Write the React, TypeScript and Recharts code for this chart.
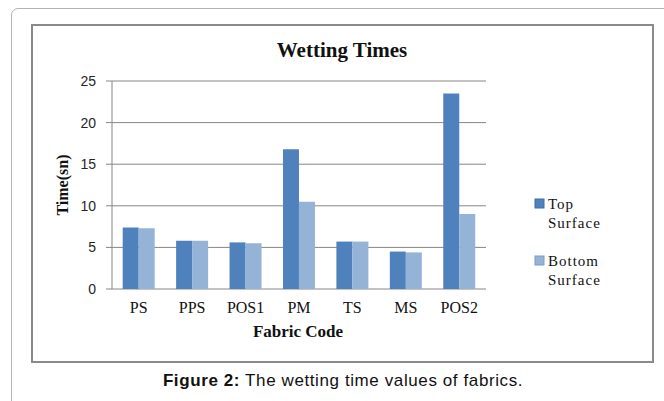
import { Bar, BarChart, CartesianGrid, XAxis, YAxis } from 'recharts';

const fabrics = ['PS', 'PPS', 'POS1', 'PM', 'TS', 'MS', 'POS2'];
const topSurface = [7.4, 5.8, 5.6, 16.8, 5.7, 4.5, 23.5];
const bottomSurface = [7.3, 5.8, 5.5, 10.5, 5.7, 4.4, 9.0];
const yTicks = [0, 5, 10, 15, 20, 25];
const edgeTicks = [0, 1, 2, 3, 4, 5, 6, 7];

const series = [
  { key: 'top', label: ['Top', 'Surface'], fill: '#4F81BD', stroke: '#3F6FA8' },
  { key: 'bottom', label: ['Bottom', 'Surface'], fill: '#95B3D7', stroke: '#7B9CC6' },
];

const data = fabrics.map((name, i) => ({
  name,
  top: topSurface[i],
  bottom: bottomSurface[i],
}));

const SERIF = '"Liberation Serif", "Times New Roman", serif';
const SANS = '"Liberation Sans", Arial, sans-serif';
const GRID = '#868686';

export default function App() {
  return (
    <div
      style={{
        position: 'absolute',
        left: 0,
        top: 0,
        width: 664,
        height: 401,
        overflow: 'hidden',
        background: '#fff',
      }}
    >
      {/* outer page frame */}
      <div
        style={{
          position: 'absolute',
          left: 11,
          top: 8,
          width: 700,
          height: 420,
          border: '1px solid #b4b4b4',
          borderRadius: 7,
        }}
      />
      {/* chart area box */}
      <div
        style={{
          position: 'absolute',
          left: 31,
          top: 24,
          width: 623,
          height: 339,
          boxSizing: 'border-box',
          border: '2px solid #8a8a8a',
        }}
      />

      <div style={{ position: 'absolute', left: 0, top: 0 }}>
        <BarChart
          width={664}
          height={401}
          data={data}
          margin={{ top: 81, right: 178, left: 72, bottom: 82 }}
          barCategoryGap="20%"
          barGap={0}
        >
          <CartesianGrid vertical={false} stroke={GRID} />
          <XAxis
            xAxisId="edges"
            type="number"
            domain={[0, 7]}
            ticks={edgeTicks}
            tick={false}
            tickSize={5}
            height={0}
            axisLine={{ stroke: GRID }}
            tickLine={{ stroke: GRID }}
          />
          <XAxis
            xAxisId="cat"
            dataKey="name"
            height={30}
            axisLine={false}
            tickLine={false}
            tickSize={0}
            tickMargin={13}
            interval={0}
            tick={{ fontFamily: SERIF, fontSize: 16, fill: '#111' }}
          />
          <YAxis
            domain={[0, 25]}
            ticks={yTicks}
            width={40}
            tickSize={6}
            tickMargin={10}
            axisLine={{ stroke: GRID }}
            tickLine={{ stroke: GRID }}
            tick={{ fontFamily: SANS, fontSize: 14, fill: '#262626' }}
          />
          {series.map((s) => (
            <Bar
              key={s.key}
              xAxisId="cat"
              dataKey={s.key}
              fill={s.fill}
              isAnimationActive={false}
            />
          ))}
        </BarChart>
      </div>

      {/* text overlay */}
      <svg
        width={664}
        height={401}
        style={{ position: 'absolute', left: 0, top: 0, pointerEvents: 'none' }}
      >
        <text
          x={342}
          y={57}
          textAnchor="middle"
          fontFamily={SERIF}
          fontWeight="bold"
          fontSize={21}
          fill="#111"
        >
          Wetting Times
        </text>
        <text
          x={68}
          y={185}
          transform="rotate(-90 68 185)"
          textAnchor="middle"
          fontFamily={SERIF}
          fontWeight="bold"
          fontSize={16}
          fill="#111"
        >
          Time(sn)
        </text>
        <text
          x={298}
          y={337}
          textAnchor="middle"
          fontFamily={SERIF}
          fontWeight="bold"
          fontSize={17}
          fill="#111"
        >
          Fabric Code
        </text>

        {series.map((s, i) => {
          const y0 = 209 + i * 57;
          return (
            <g key={s.key}>
              <rect x={535} y={y0 - 10} width={9} height={9} fill={s.fill} stroke={s.stroke} strokeWidth={1} />
              {s.label.map((line, j) => (
                <text
                  key={line}
                  x={548}
                  y={y0 + j * 19}
                  fontFamily={SERIF}
                  fontSize={15}
                  letterSpacing={1}
                  fill="#111"
                >
                  {line}
                </text>
              ))}
            </g>
          );
        })}

        <text
          x={343}
          y={386}
          textAnchor="middle"
          fontFamily={SANS}
          fontSize={17}
          letterSpacing={0.6}
          fill="#111"
        >
          <tspan fontWeight="bold">Figure 2:</tspan> The wetting time values of fabrics.
        </text>
      </svg>
    </div>
  );
}
